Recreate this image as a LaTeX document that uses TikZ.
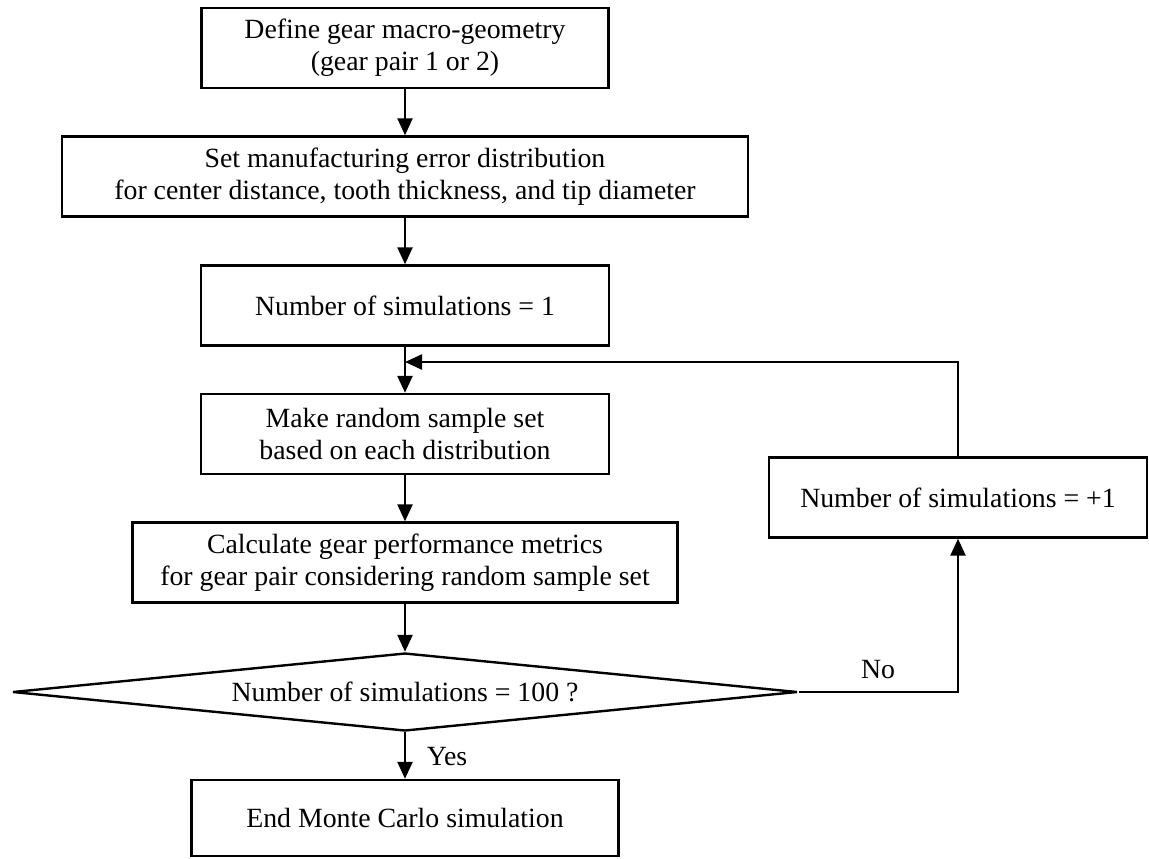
\documentclass[tikz,border=0pt]{standalone}
\usepackage{fontspec}
\setmainfont{Liberation Serif}
\usetikzlibrary{shapes.geometric,arrows.meta}

\tikzset{
  stepbox/.style={draw, rectangle, line width=1.2pt, align=center, inner sep=0pt,
    minimum height=40pt, font=\fontsize{13.9pt}{16pt}\selectfont},
  testbox/.style={draw, diamond, aspect=10, line width=1.2pt, inner sep=0pt,
    minimum width=392.5pt, minimum height=39pt, font=\fontsize{13.9pt}{16pt}\selectfont},
  flow/.style={line width=1.2pt, -{Triangle[length=8.5pt,width=7.5pt]}},
  lbl/.style={font=\fontsize{13.9pt}{16pt}\selectfont}
}

\begin{document}
\begin{tikzpicture}[x=0.5pt, y=-0.5pt]
    \useasboundingbox (0,0) rectangle (1149,858);
    % Set-up
    \node[stepbox, minimum width=203.5pt] (geom) at (405,48) {Define gear macro-geometry\\(gear pair 1 or 2)};
    \node[stepbox, minimum width=343pt] (err) at (405,176.5) {Set manufacturing error distribution\\for center distance, tooth thickness, and tip diameter};
    \node[stepbox, minimum width=204pt] (init) at (405,305.5) {Number of simulations = 1};
    % Loop body
    \node[stepbox, minimum width=204pt] (sample) at (405,434) {Make random sample set\\based on each distribution};
    \node[stepbox, minimum width=272.5pt] (calc) at (405,562.5) {Calculate gear performance metrics\\for gear pair considering random sample set};
    \node[testbox] (test) at (405,692) {Number of simulations = 100 ?};
    \node[stepbox, minimum width=189pt] (incr) at (958,497.5) {Number of simulations = +1};
    % End
    \node[stepbox, minimum width=213.5pt, minimum height=38pt] (done) at (405,818) {End Monte Carlo simulation};

    \coordinate (merge) at (405,362);

    \draw[flow] (geom) -- (err);
    \draw[flow] (err) -- (init);
    \draw[flow] (init) -- (sample);
    \draw[flow] (sample) -- (calc);
    \draw[flow] (calc) -- (test);
    \draw[flow] (test) -- (done);

    % Back to the next sample
    \draw[flow] (test.east) -| (incr.south);
    \draw[flow] (incr.north) |- (merge);
    \node[lbl] (no) at (878,670) {No};
    \node[lbl] (yes) at (447,757) {Yes};
\end{tikzpicture}
\end{document}
